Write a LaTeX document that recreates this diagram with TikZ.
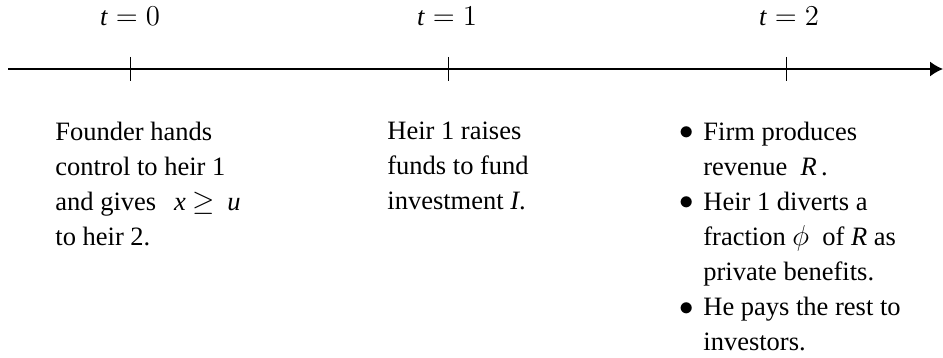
\documentclass[tikz,border=0pt]{standalone}
\usepackage{fontspec}
\setmainfont{Liberation Serif}
\usetikzlibrary{arrows.meta}
\begin{document}
\begin{tikzpicture}[x=0.5pt,y=-0.5pt,
  axisline/.style={line width=0.7pt,-{Latex[length=6.5pt,width=7.5pt]}},
  tickline/.style={line width=0.5pt},
  tlabel/.style={anchor=base,inner sep=0pt,font=\fontsize{13.25pt}{17.5pt}\selectfont},
  desc/.style={anchor=north west,inner sep=0pt,align=left,font=\fontsize{13.25pt}{17.5pt}\selectfont},
  bul/.style={anchor=base west,inner sep=0pt,font=\fontsize{13.25pt}{17.5pt}\selectfont}]
\useasboundingbox (0,0) rectangle (943,358);
\coordinate (a0) at (8,69);
\coordinate (a1) at (943,69);
\draw[axisline] (a0) -- (a1);
\foreach \n/\x in {0/130,1/448,2/786}{
  \coordinate (tt\n) at (\x,57);
  \coordinate (tb\n) at (\x,81);
  \draw[tickline] (tt\n) -- (tb\n);
}
\node[tlabel] (l0) at (130,26) {\textit{t}${}=0$};
\node[tlabel] (l1) at (447,26) {\textit{t}${}=1$};
\node[tlabel] (l2) at (789,26) {\textit{t}${}=2$};
\node[desc] (d0) at (55,122) {Founder hands\\control to heir 1\\and gives\hspace{9pt}\textit{x}\hspace{3.5pt}$\geq$\hspace{6pt}\textit{u}\\to heir 2.};
\node[desc] (d1) at (387,122) {Heir 1 raises\\funds to fund\\investment \textit{I}.};
\node[desc] (d2) at (703,122) {Firm produces\\revenue\ \ \textit{R}\,.\\Heir 1 diverts a\\fraction $\phi$\ \ of \textit{R} as\\private benefits.\\He pays the rest to\\investors.};
\node[bul] (b1) at (679,140) {$\bullet$};
\node[bul] (b2) at (679,210) {$\bullet$};
\node[bul] (b3) at (679,315) {$\bullet$};
\end{tikzpicture}
\end{document}
